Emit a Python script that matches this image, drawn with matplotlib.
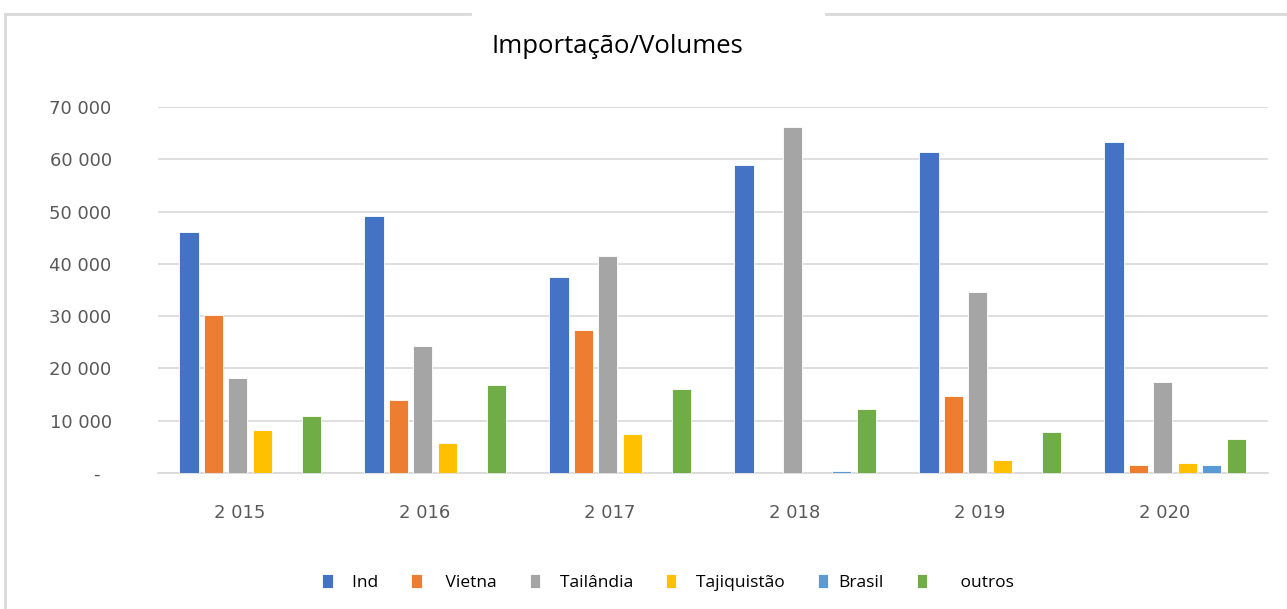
import matplotlib.pyplot as plt
import matplotlib.transforms as mtransforms
from matplotlib.lines import Line2D
import numpy as np

years = ['2 015', '2 016', '2 017', '2 018', '2 019', '2 020']
series = ['Ind', 'Vietna', 'Tailândia', 'Tajiquistão', 'Brasil', 'outros']
legend_labels = ['  Ind', '   Vietna', '  Tailândia', '  Tajiquistão', 'Brasil', '     outros']

ind = [46100, 49100, 37500, 58900, 61400, 63300]
vietna = [30200, 14000, 27300, 0, 14700, 1500]
tailandia = [18200, 24300, 41500, 66200, 34600, 17400]
tajiquistao = [8200, 5700, 7500, 0, 2500, 2000]
brasil = [0, 0, 0, 400, 0, 1500]
outros = [10900, 16800, 16100, 12200, 7800, 6500]

values = [ind, vietna, tailandia, tajiquistao, brasil, outros]
colors = ['#4472C4', '#ED7D31', '#A5A5A5', '#FFC000', '#5B9BD5', '#70AD47']

yticks = [0, 10000, 20000, 30000, 40000, 50000, 60000, 70000]
ytick_labels = ['-  ', '10 000', '20 000', '30 000', '40 000', '50 000', '60 000', '70 000']

fig = plt.figure(figsize=(12.87, 6.09), dpi=100)
ax = fig.add_axes([0.1224, 0.2233, 0.8625, 0.601])

x = np.arange(len(years))
step = 0.132
width = 0.103
for i, (vals, col, lab) in enumerate(zip(values, colors, legend_labels)):
    ax.bar(x + (i - 2.5) * step, vals, width, color=col, label=lab,
           edgecolor='white', linewidth=0.6, zorder=3)

ax.set_xlim(-0.5, len(years) - 0.5)
ax.set_ylim(0, 70000)
ax.set_yticks(yticks)
ax.set_yticklabels(ytick_labels)
ax.set_xticks(x)
ax.set_xticklabels(years)

ax.tick_params(axis='y', length=0, pad=33, labelsize=13, labelcolor='#595959')
ax.tick_params(axis='x', length=0, pad=22, labelsize=13, labelcolor='#595959')
# Excel puts a trailing pad after the year labels
shift = mtransforms.ScaledTranslation(-10 / 100, 0, fig.dpi_scale_trans)
for lbl in ax.get_xticklabels():
    lbl.set_transform(lbl.get_transform() + shift)

ax.grid(axis='y', color='#d9d9d9', linewidth=1.2, zorder=0)
for s in ['top', 'right', 'left']:
    ax.spines[s].set_visible(False)
ax.spines['bottom'].set_color('#d9d9d9')
ax.spines['bottom'].set_linewidth(1.2)

fig.text(0.480, 0.924, 'Importação/Volumes', ha='center', va='center',
         fontsize=18.5, family='Open Sans', color='#000000')

handles, labels = ax.get_legend_handles_labels()
leg = fig.legend(handles, labels, loc='center', bbox_to_anchor=(0.519, 0.044),
                 ncol=6, frameon=False, handlelength=0.6,
                 handleheight=0.9, handletextpad=0.6, columnspacing=1.9,
                 prop={'family': 'Open Sans', 'size': 12.5})

# light chart border, partly cut off
bc = '#d9d9d9'
fig.add_artist(Line2D([5 / 1287, 470 / 1287], [1 - 14 / 609, 1 - 14 / 609], color=bc, lw=2))
fig.add_artist(Line2D([826 / 1287, 1.0], [1 - 14 / 609, 1 - 14 / 609], color=bc, lw=2))
fig.add_artist(Line2D([5 / 1287, 5 / 1287], [0, 1 - 14 / 609], color=bc, lw=2))

fig.savefig('out.png', dpi=100)
